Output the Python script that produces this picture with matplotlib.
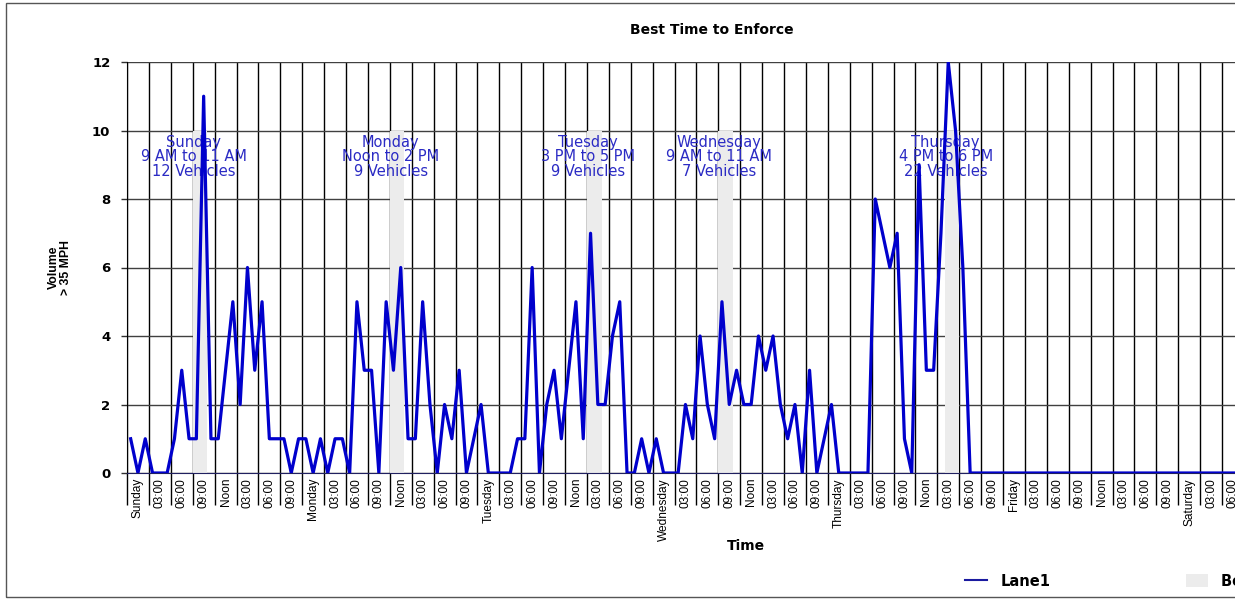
import numpy as np
import matplotlib
matplotlib.use('Agg')
import matplotlib.pyplot as plt
from matplotlib import font_manager
from matplotlib.lines import Line2D
from matplotlib.patches import Patch, Rectangle
from matplotlib.ticker import FixedLocator, MultipleLocator

W, H = 1235, 602

# hourly counts > 35 MPH, Sunday 00:00 onwards (one value per hour)
sunday = [1, 0, 1, 0, 0, 0, 1, 3, 1, 1, 11, 1, 1, 3, 5, 2, 6, 3, 5, 1, 1, 1, 0, 1]
monday = [1, 0, 1, 0, 1, 1, 0, 5, 3, 3, 0, 5, 3, 6, 1, 1, 5, 2, 0, 2, 1, 3, 0, 1]
tuesday = [2, 0, 0, 0, 0, 1, 1, 6, 0, 2, 3, 1, 3, 5, 1, 7, 2, 2, 4, 5, 0, 0, 1, 0]
wednesday = [1, 0, 0, 0, 2, 1, 4, 2, 1, 5, 2, 3, 2, 2, 4, 3, 4, 2, 1, 2, 0, 3, 0, 1]
thursday = [2, 0, 0, 0, 0, 0, 8, 7, 6, 7, 1, 0, 9, 3, 3, 7, 12, 10, 6, 0, 0, 0, 0, 0]
friday = [0] * 24
saturday = [0] * 24
lane1 = sunday + monday + tuesday + wednesday + thursday + friday + saturday

days = ['Sunday', 'Monday', 'Tuesday', 'Wednesday', 'Thursday', 'Friday', 'Saturday']
slot_names = ['03:00', '06:00', '09:00', 'Noon', '03:00', '06:00', '09:00']

# best time to enforce windows
best_days = ['Sunday', 'Monday', 'Tuesday', 'Wednesday', 'Thursday']
best_windows = ['9 AM to 11 AM', 'Noon to 2 PM', '3 PM to 5 PM', '9 AM to 11 AM', '4 PM to 6 PM']
best_counts = [12, 9, 9, 7, 22]
best_start = [9, 36, 63, 81, 112]  # hour of week
best_hours = [2, 2, 2, 2, 2]

try:
    font_manager.findfont(font_manager.FontProperties(family='Liberation Sans Narrow'),
                          fallback_to_default=False)
    narrow, tick_size, ylab_size = 'Liberation Sans Narrow', 10.5, 10
except ValueError:
    narrow, tick_size, ylab_size = 'Liberation Sans', 8.6, 8.8

fig = plt.figure(figsize=(W / 100, H / 100), dpi=100)
ax = fig.add_axes([127 / W, 1 - 473 / H, 1 - 127 / W, (473 - 62) / H])

hours = np.arange(len(lane1))
ax.bar(best_start, [10] * len(best_start), width=best_hours, align='edge',
       color='#ececec', zorder=1.5)
ax.plot(hours + 0.5, lane1, color='#0000cc', lw=2.3, zorder=3)

for day, window, count, start in zip(best_days, best_windows, best_counts, best_start):
    ax.text(start + 0.15, 9.23, f"{day}\n{window}\n{count} Vehicles",
            color='#2b2bc4', ha='center', va='center', fontsize=10.5,
            linespacing=0.95, zorder=2.5)

ax.set_xlim(0, (W - 127) / 7.3)
ax.set_ylim(0, 12)

# x axis: separators every 3 hours, labels centred in each 3-hour slot
ax.xaxis.set_major_locator(MultipleLocator(3))
ax.xaxis.set_minor_locator(FixedLocator(np.arange(1.5, 168, 3)))
labels = []
for d in days:
    labels += [d] + slot_names
ax.xaxis.set_minor_formatter(matplotlib.ticker.FixedFormatter(labels))
ax.xaxis.set_major_formatter(matplotlib.ticker.NullFormatter())
ax.tick_params(axis='x', which='major', length=23, width=1, color='black', direction='out')
ax.tick_params(axis='x', which='minor', length=0, pad=3.6, labelrotation=90)
for lbl in ax.get_xticklabels(minor=True):
    lbl.set_family(narrow)
    lbl.set_fontsize(tick_size)
    lbl.set_verticalalignment('top')

ax.set_yticks(np.arange(0, 13, 2))
ax.tick_params(axis='y', length=4, width=1, color='#303030', pad=8)
for lbl in ax.get_yticklabels():
    lbl.set_fontweight('bold')
    lbl.set_fontsize(9.5)

ax.xaxis.grid(True, which='major', color='black', lw=1)
ax.yaxis.grid(True, color='#404040', lw=1)
ax.set_axisbelow(True)
for side in ['top', 'right']:
    ax.spines[side].set_visible(False)
ax.spines['left'].set_color('black')
ax.spines['bottom'].set_color('#202060')

ax.set_ylabel("Volume\n> 35 MPH", family=narrow, fontweight='bold',
              fontsize=ylab_size, linespacing=1.05)
ax.yaxis.set_label_coords(-0.0496, 0.5)
ax.set_xlabel("Time", fontweight='bold', fontsize=10)
ax.xaxis.set_label_coords((746 - 127) / (W - 127), -0.16)
ax.set_title("Best Time to Enforce", fontweight='bold', fontsize=10, pad=0,
             x=(712 - 127) / (W - 127), y=(473 - 34) / 411, va='baseline')

handles = [Line2D([], [], color='#1a1aa0', lw=1.5), Patch(facecolor='#ececec')]
fig.legend(handles, ['Lane1', 'Best Time to Enforce'], loc='center left',
           bbox_to_anchor=(952 / W, 1 - 581 / H), ncol=2, frameon=False,
           prop={'weight': 'bold', 'size': 10.5}, handlelength=1.5,
           handleheight=1.0, handletextpad=0.9, columnspacing=9.3)

fig.add_artist(Rectangle((6 / W, 1 - 597 / H), 1.0, (597 - 3) / H,
                         transform=fig.transFigure, fill=False,
                         edgecolor='#555555', lw=1))

fig.savefig('out.png', dpi=100)
